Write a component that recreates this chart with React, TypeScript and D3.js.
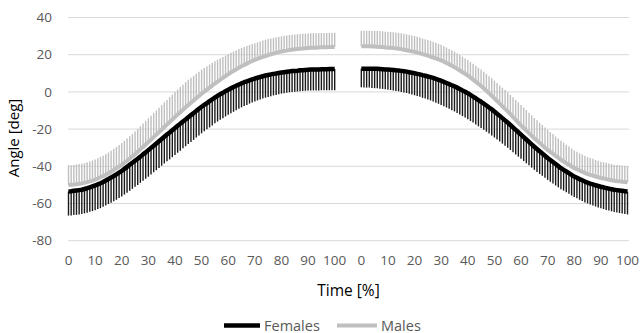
import * as d3 from 'd3';

// Time categories (% of cycle), one per percent, shown in two blocks
const TIME = d3.range(0, 101);
const TICK_LABELS = [0, 10, 20, 30, 40, 50, 60, 70, 80, 90, 100];
const Y_TICKS = [-80, -60, -40, -20, 0, 20, 40];

// first block
const FEMALES_A = [
  -53.5, -53.4, -53.2, -53.0, -52.8, -52.6, -52.2, -51.8, -51.3, -50.8,
  -50.3, -49.7, -49.1, -48.4, -47.6, -46.8, -46.0, -45.2, -44.3, -43.4,
  -42.5, -41.4, -40.3, -39.2, -38.1, -37.0, -35.9, -34.8, -33.6, -32.5,
  -31.3, -30.1, -28.9, -27.7, -26.5, -25.3, -24.1, -22.9, -21.8, -20.6,
  -19.4, -18.2, -17.1, -15.9, -14.8, -13.6, -12.5, -11.4, -10.2, -9.1,
  -8.0, -7.0, -6.0, -5.0, -4.0, -3.0, -2.1, -1.3, -0.5, 0.4,
  1.2, 1.9, 2.6, 3.3, 4.0, 4.6, 5.2, 5.7, 6.2, 6.7,
  7.2, 7.6, 8.0, 8.4, 8.8, 9.1, 9.4, 9.7, 9.9, 10.2,
  10.4, 10.6, 10.8, 11.0, 11.2, 11.3, 11.4, 11.6, 11.7, 11.8,
  11.9, 12.0, 12.0, 12.1, 12.1, 12.2, 12.2, 12.2, 12.3, 12.3,
  12.3,
];
const FEMALES_A_SD = [
  13.0, 13.0, 13.0, 13.1, 13.1, 13.1, 13.1, 13.2, 13.2, 13.3,
  13.3, 13.3, 13.4, 13.4, 13.5, 13.5, 13.6, 13.6, 13.7, 13.7,
  13.8, 13.8, 13.9, 13.9, 14.0, 14.0, 14.1, 14.1, 14.2, 14.2,
  14.3, 14.3, 14.3, 14.4, 14.4, 14.4, 14.4, 14.4, 14.5, 14.5,
  14.5, 14.5, 14.5, 14.4, 14.4, 14.4, 14.4, 14.4, 14.3, 14.3,
  14.3, 14.2, 14.1, 14.1, 14.0, 13.9, 13.8, 13.7, 13.7, 13.6,
  13.5, 13.4, 13.3, 13.1, 13.0, 12.9, 12.8, 12.7, 12.5, 12.4,
  12.3, 12.2, 12.1, 12.0, 11.9, 11.8, 11.7, 11.6, 11.5, 11.4,
  11.3, 11.3, 11.3, 11.2, 11.2, 11.2, 11.2, 11.2, 11.2, 11.2,
  11.2, 11.2, 11.2, 11.3, 11.3, 11.3, 11.3, 11.3, 11.4, 11.4,
  11.4,
];
const MALES_A = [
  -50.0, -49.9, -49.8, -49.6, -49.4, -49.2, -48.9, -48.5, -48.1, -47.7,
  -47.2, -46.6, -45.9, -45.3, -44.6, -43.8, -42.9, -42.0, -41.1, -40.2,
  -39.2, -38.1, -37.0, -35.8, -34.7, -33.5, -32.2, -30.9, -29.6, -28.3,
  -27.0, -25.7, -24.3, -23.0, -21.6, -20.3, -18.9, -17.6, -16.2, -14.9,
  -13.5, -12.2, -10.9, -9.6, -8.3, -7.0, -5.8, -4.6, -3.4, -2.2,
  -1.0, 0.1, 1.2, 2.3, 3.4, 4.5, 5.5, 6.5, 7.5, 8.5,
  9.5, 10.4, 11.3, 12.1, 13.0, 13.8, 14.5, 15.2, 15.9, 16.6,
  17.2, 17.7, 18.3, 18.8, 19.3, 19.8, 20.2, 20.6, 21.0, 21.4,
  21.7, 22.0, 22.2, 22.5, 22.7, 22.9, 23.0, 23.2, 23.3, 23.5,
  23.6, 23.7, 23.8, 23.8, 23.9, 24.0, 24.0, 24.0, 24.1, 24.1,
  24.1,
];
const MALES_A_SD = [
  10.5, 10.5, 10.5, 10.6, 10.6, 10.6, 10.6, 10.7, 10.7, 10.8,
  10.8, 10.9, 11.0, 11.0, 11.1, 11.2, 11.3, 11.4, 11.5, 11.6,
  11.7, 11.8, 11.9, 12.0, 12.1, 12.2, 12.3, 12.4, 12.6, 12.7,
  12.8, 12.9, 13.0, 13.0, 13.1, 13.2, 13.3, 13.3, 13.4, 13.4,
  13.5, 13.5, 13.5, 13.5, 13.5, 13.5, 13.4, 13.3, 13.2, 13.1,
  13.0, 12.8, 12.6, 12.4, 12.2, 12.0, 11.8, 11.5, 11.3, 11.0,
  10.8, 10.6, 10.4, 10.2, 10.0, 9.8, 9.6, 9.5, 9.3, 9.2,
  9.0, 8.9, 8.8, 8.8, 8.7, 8.6, 8.5, 8.4, 8.4, 8.3,
  8.2, 8.2, 8.1, 8.1, 8.0, 8.0, 8.0, 7.9, 7.9, 7.8,
  7.8, 7.8, 7.8, 7.7, 7.7, 7.7, 7.7, 7.7, 7.7, 7.7,
  7.7,
];

// second block
const FEMALES_B = [
  12.5, 12.5, 12.5, 12.5, 12.4, 12.4, 12.4, 12.3, 12.2, 12.1,
  12.0, 11.9, 11.8, 11.6, 11.5, 11.3, 11.1, 10.9, 10.6, 10.3,
  10.0, 9.7, 9.4, 9.0, 8.7, 8.3, 7.9, 7.5, 7.0, 6.5,
  6.0, 5.4, 4.8, 4.2, 3.6, 3.0, 2.3, 1.6, 0.8, 0.1,
  -0.7, -1.6, -2.5, -3.4, -4.4, -5.3, -6.3, -7.3, -8.4, -9.4,
  -10.5, -11.7, -12.9, -14.1, -15.3, -16.5, -17.8, -19.1, -20.4, -21.7,
  -23.0, -24.3, -25.6, -26.9, -28.2, -29.5, -30.7, -31.9, -33.1, -34.3,
  -35.5, -36.6, -37.7, -38.8, -39.9, -41.0, -41.9, -42.8, -43.7, -44.6,
  -45.5, -46.2, -46.9, -47.5, -48.2, -48.8, -49.3, -49.7, -50.2, -50.6,
  -51.0, -51.3, -51.7, -52.0, -52.3, -52.6, -52.8, -53.0, -53.2, -53.4,
  -53.6,
];
const FEMALES_B_SD = [
  10.0, 10.1, 10.2, 10.2, 10.3, 10.4, 10.5, 10.6, 10.6, 10.7,
  10.8, 10.9, 11.0, 11.1, 11.2, 11.3, 11.4, 11.5, 11.6, 11.7,
  11.8, 11.9, 12.0, 12.2, 12.3, 12.4, 12.5, 12.6, 12.8, 12.9,
  13.0, 13.1, 13.2, 13.3, 13.4, 13.5, 13.6, 13.7, 13.8, 13.9,
  14.0, 14.0, 14.0, 14.1, 14.1, 14.1, 14.1, 14.1, 14.0, 14.0,
  14.0, 13.9, 13.8, 13.7, 13.6, 13.5, 13.4, 13.3, 13.2, 13.1,
  13.0, 12.9, 12.8, 12.6, 12.5, 12.4, 12.3, 12.2, 12.0, 11.9,
  11.8, 11.7, 11.6, 11.5, 11.4, 11.3, 11.2, 11.2, 11.1, 11.1,
  11.0, 11.0, 11.1, 11.1, 11.2, 11.2, 11.3, 11.4, 11.4, 11.5,
  11.6, 11.7, 11.8, 11.8, 11.9, 12.0, 12.1, 12.1, 12.2, 12.2,
  12.3,
];
const MALES_B = [
  24.5, 24.5, 24.5, 24.5, 24.4, 24.4, 24.3, 24.2, 24.1, 23.9,
  23.8, 23.7, 23.6, 23.4, 23.2, 23.0, 22.7, 22.4, 22.1, 21.8,
  21.5, 21.1, 20.7, 20.3, 19.9, 19.5, 19.0, 18.5, 18.0, 17.5,
  17.0, 16.3, 15.6, 14.8, 14.1, 13.3, 12.4, 11.5, 10.6, 9.7,
  8.8, 7.7, 6.6, 5.5, 4.3, 3.2, 1.9, 0.6, -0.8, -2.1,
  -3.5, -4.9, -6.3, -7.7, -9.1, -10.5, -12.0, -13.5, -15.0, -16.5,
  -18.0, -19.4, -20.8, -22.2, -23.6, -25.0, -26.2, -27.5, -28.7, -30.0,
  -31.2, -32.3, -33.3, -34.4, -35.4, -36.5, -37.4, -38.3, -39.2, -40.1,
  -41.0, -41.6, -42.3, -42.9, -43.6, -44.2, -44.6, -45.0, -45.5, -45.9,
  -46.3, -46.6, -46.9, -47.2, -47.5, -47.8, -48.0, -48.1, -48.3, -48.4,
  -48.6,
];
const MALES_B_SD = [
  8.4, 8.4, 8.4, 8.4, 8.4, 8.4, 8.4, 8.5, 8.5, 8.5,
  8.5, 8.5, 8.5, 8.5, 8.5, 8.5, 8.5, 8.5, 8.5, 8.5,
  8.5, 8.5, 8.5, 8.4, 8.4, 8.4, 8.4, 8.4, 8.4, 8.3,
  8.3, 8.3, 8.3, 8.3, 8.3, 8.3, 8.3, 8.3, 8.3, 8.3,
  8.3, 8.4, 8.5, 8.6, 8.7, 8.8, 8.9, 9.1, 9.2, 9.4,
  9.5, 9.7, 9.8, 10.0, 10.1, 10.3, 10.4, 10.6, 10.7, 10.9,
  11.0, 11.0, 11.0, 11.0, 11.0, 11.0, 11.0, 10.9, 10.9, 10.8,
  10.8, 10.7, 10.6, 10.4, 10.3, 10.2, 10.1, 9.9, 9.8, 9.6,
  9.5, 9.4, 9.3, 9.3, 9.2, 9.1, 9.0, 9.0, 8.9, 8.9,
  8.8, 8.8, 8.8, 8.7, 8.7, 8.7, 8.7, 8.6, 8.6, 8.6,
  8.6,
];

// second block starts after 9 empty categories
const BLOCK_B_START = 110;

const FEMALE_COLOR = '#000000';
const MALE_COLOR = '#bfbfbf';
const FONT = '"Open Sans", sans-serif';

export default function App() {
  const width = 641;
  const height = 333;

  const x = d3.scaleLinear().domain([0, BLOCK_B_START + 100]).range([68.5, 627.5]);
  const y = d3.scaleLinear().domain([-80, 40]).range([240.7, 17.5]);

  const blocks = [
    { start: 0, females: FEMALES_A, femSd: FEMALES_A_SD, males: MALES_A, maleSd: MALES_A_SD },
    { start: BLOCK_B_START, females: FEMALES_B, femSd: FEMALES_B_SD, males: MALES_B, maleSd: MALES_B_SD },
  ];

  const lineFor = (start: number) =>
    d3
      .line<number>()
      .x((_, i) => x(start + TIME[i]))
      .y((d) => y(d));

  return (
    <svg
      width={width}
      height={height}
      style={{ position: 'absolute', left: 0, top: 0, background: '#fff' }}
      fontFamily={FONT}
    >
      {/* Grid lines */}
      {Y_TICKS.map((t) => (
        <line key={t} x1={68} x2={629} y1={y(t)} y2={y(t)} stroke="#d9d9d9" strokeWidth={1} />
      ))}

      {/* Y axis labels */}
      {Y_TICKS.map((t) => (
        <text key={t} x={52} y={y(t)} dy="0.35em" textAnchor="end" fontSize={13.5} fill="#595959">
          {t}
        </text>
      ))}

      {/* X axis labels, two blocks */}
      {blocks.map((b) =>
        TICK_LABELS.map((t) => (
          <text
            key={`${b.start}-${t}`}
            x={x(b.start + t)}
            y={265}
            textAnchor="middle"
            fontSize={13.5}
            fill="#595959"
          >
            {t}
          </text>
        ))
      )}

      {/* Error bars */}
      {blocks.map((b) => (
        <g key={`eb-${b.start}`}>
          {b.males.map((m, i) => (
            <line
              key={`m${i}`}
              x1={x(b.start + TIME[i])}
              x2={x(b.start + TIME[i])}
              y1={y(m)}
              y2={y(m + b.maleSd[i])}
              stroke={MALE_COLOR}
              strokeWidth={1.4}
            />
          ))}
          {b.females.map((f, i) => (
            <line
              key={`f${i}`}
              x1={x(b.start + TIME[i])}
              x2={x(b.start + TIME[i])}
              y1={y(f)}
              y2={y(f - b.femSd[i])}
              stroke="#1a1a1a"
              strokeWidth={1.4}
            />
          ))}
        </g>
      ))}

      {/* Mean lines */}
      {blocks.map((b) => (
        <g key={`ln-${b.start}`}>
          <path d={lineFor(b.start)(b.males) ?? ''} fill="none" stroke={MALE_COLOR} strokeWidth={4} strokeLinejoin="round" />
          <path d={lineFor(b.start)(b.females) ?? ''} fill="none" stroke={FEMALE_COLOR} strokeWidth={4.5} strokeLinejoin="round" />
        </g>
      ))}

      {/* Axis titles */}
      <text x={348.5} y={296} textAnchor="middle" fontSize={15.5} fill="#000">
        Time [%]
      </text>
      <text transform="translate(19, 138) rotate(-90)" textAnchor="middle" fontSize={15} fill="#000">
        Angle [deg]
      </text>

      {/* Legend */}
      <line x1={224} x2={260} y1={325.5} y2={325.5} stroke={FEMALE_COLOR} strokeWidth={4.5} />
      <text x={264} y={330.5} fontSize={14.5} fill="#595959">
        Females
      </text>
      <line x1={337} x2={377} y1={325.5} y2={325.5} stroke={MALE_COLOR} strokeWidth={4} />
      <text x={381} y={330.5} fontSize={14.5} fill="#595959">
        Males
      </text>
    </svg>
  );
}
